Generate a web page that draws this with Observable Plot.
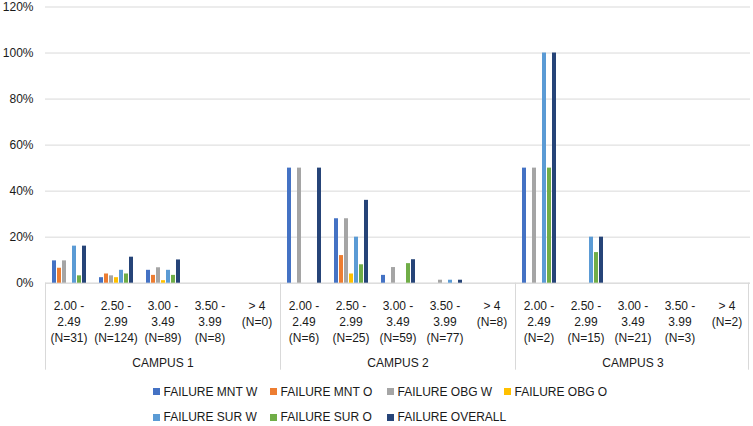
<!DOCTYPE html>
<html>
<head>
<meta charset="utf-8">
<script src="https://cdn.jsdelivr.net/npm/d3@7"></script>
<script src="https://cdn.jsdelivr.net/npm/@observablehq/plot@0.6"></script>
<style>
  html, body { margin: 0; padding: 0; background: #fff; }
  body { width: 753px; height: 426px; overflow: hidden; font-family: "Liberation Sans", Arial, sans-serif; color: #1a1a1a; }
  #chart svg { display: block; }
  .legend { display: grid; grid-template-columns: repeat(4, 117px); grid-auto-rows: 25.4px; padding-left: 152.5px; margin-top: 1px; font-size: 12px; }
  .legend .item { display: flex; align-items: center; white-space: nowrap; }
  .legend .sw { width: 7px; height: 7px; margin-right: 4px; flex: none; }
</style>
</head>
<body>
<div id="chart"></div>
<div class="legend" id="legend"></div>
<script>
// ---- data ----
const campuses = ["CAMPUS 1", "CAMPUS 2", "CAMPUS 3"];
const intervals = ["2.00 -\n2.49", "2.50 -\n2.99", "3.00 -\n3.49", "3.50 -\n3.99", "> 4"];
const counts = [
  [31, 124, 89, 8, 0],
  [6, 25, 59, 77, 8],
  [2, 15, 21, 3, 2]
];
const series = ["FAILURE MNT W", "FAILURE MNT O", "FAILURE OBG W", "FAILURE OBG O", "FAILURE SUR W", "FAILURE SUR O", "FAILURE OVERALL"];
const colors = ["#4472C4", "#ED7D31", "#A5A5A5", "#FFC000", "#5B9BD5", "#70AD47", "#264478"];
// values in %, 15 groups: campus 1 (5 intervals), campus 2, campus 3
const mntW    = [9.7, 2.4, 5.6, 0, 0,   50, 28, 3.4, 0, 0,    50, 0, 0, 0, 0];
const mntO    = [6.5, 4.0, 3.4, 0, 0,   0, 12, 0, 0, 0,       0, 0, 0, 0, 0];
const obgW    = [9.7, 3.2, 6.7, 0, 0,   50, 28, 6.8, 1.3, 0,  50, 0, 0, 0, 0];
const obgO    = [0, 2.4, 1.1, 0, 0,     0, 4, 0, 0, 0,        0, 0, 0, 0, 0];
const surW    = [16.1, 5.6, 5.6, 0, 0,  0, 20, 0, 1.3, 0,     100, 20, 0, 0, 0];
const surO    = [3.2, 4.0, 3.4, 0, 0,   0, 8, 8.5, 0, 0,      50, 13.3, 0, 0, 0];
const overall = [16.1, 11.3, 10.1, 0, 0, 50, 36, 10.2, 1.3, 0, 100, 20, 0, 0, 0];
const seriesValues = [mntW, mntO, obgW, obgO, surW, surO, overall];
const yTicks = [0, 0.2, 0.4, 0.6, 0.8, 1.0, 1.2];

// ---- build tables ----
const groups = [];
campuses.forEach((c, ci) => intervals.forEach((iv, ii) => {
  groups.push({key: `${ci}|${ii}`, campus: c, label: `${iv}\n(N=${counts[ci][ii]})`});
}));
const keys = groups.map(g => g.key);
const labelOf = new Map(groups.map(g => [g.key, g.label]));
const rows = [];
series.forEach((s, si) => groups.forEach((g, gi) => {
  rows.push({key: g.key, series: s, value: seriesValues[si][gi] / 100});
}));
const campusLabels = campuses.map((c, ci) => ({key: `${ci}|2`, campus: c}));
// campus boundaries: left edge of each campus's first group, right edge of the last group
const boundaries = campuses.map((c, ci) => ({key: `${ci}|0`, edge: 0}))
  .concat([{key: keys[keys.length - 1], edge: 1}]);

const W = 753, H = 378, mL = 43, mR = 1, mT = 6.5, mB = 95.3;

const chart = Plot.plot({
  width: W, height: H,
  marginLeft: mL, marginRight: mR, marginTop: mT, marginBottom: mB,
  style: {fontFamily: "'Liberation Sans', Arial, sans-serif", fontSize: "12px", color: "#1a1a1a", background: "#fff"},
  fx: {domain: keys, padding: 0, label: null},
  x: {domain: series, paddingInner: 0.22, paddingOuter: 0.9, axis: null},
  y: {domain: [0, 1.2], label: null},
  color: {domain: series, range: colors},
  marks: [
    Plot.gridY(yTicks, {stroke: "#d9d9d9", strokeOpacity: 1}),
    Plot.ruleY([0], {stroke: "#d9d9d9"}),
    Plot.barY(rows, {fx: "key", x: "series", y: "value", fill: "series"}),
    Plot.axisY(yTicks, {tickSize: 0, tickPadding: 12, tickFormat: d => `${Math.round(d * 100)}%`, fontSize: 12, label: null}),
    Plot.axisFx({anchor: "bottom", tickSize: 0, tickPadding: 15, lineHeight: 1.36, fontSize: 12, tickFormat: k => labelOf.get(k), label: null}),
    Plot.text(campusLabels, {fx: "key", text: "campus", frameAnchor: "bottom", dy: 84, fontSize: 12, fill: "#1a1a1a"}),
    Plot.rect(boundaries, {
      fx: "key",
      render: (index, scales, values, dims) => {
        const g = d3.create("svg:g").attr("stroke", "#d9d9d9").attr("stroke-width", 1);
        const xr = scales.x && scales.x.range ? scales.x.range() : [dims.marginLeft, dims.width - dims.marginRight];
        const left = Math.min(xr[0], xr[1]), right = Math.max(xr[0], xr[1]);
        const yTop = dims.height - dims.marginBottom;
        for (const i of index) {
          const x = boundaries[i].edge ? Math.round(right - 2) + 0.5 : Math.round(left) + 0.5;
          g.append("line").attr("x1", x).attr("x2", x).attr("y1", yTop).attr("y2", yTop + 87);
        }
        return g.node();
      }
    })
  ]
});
document.getElementById("chart").appendChild(chart);

// ---- legend ----
const legend = document.getElementById("legend");
series.forEach((s, i) => {
  const item = document.createElement("div");
  item.className = "item";
  const sw = document.createElement("span");
  sw.className = "sw";
  sw.style.background = colors[i];
  item.appendChild(sw);
  item.appendChild(document.createTextNode(s));
  legend.appendChild(item);
});
</script>
</body>
</html>
